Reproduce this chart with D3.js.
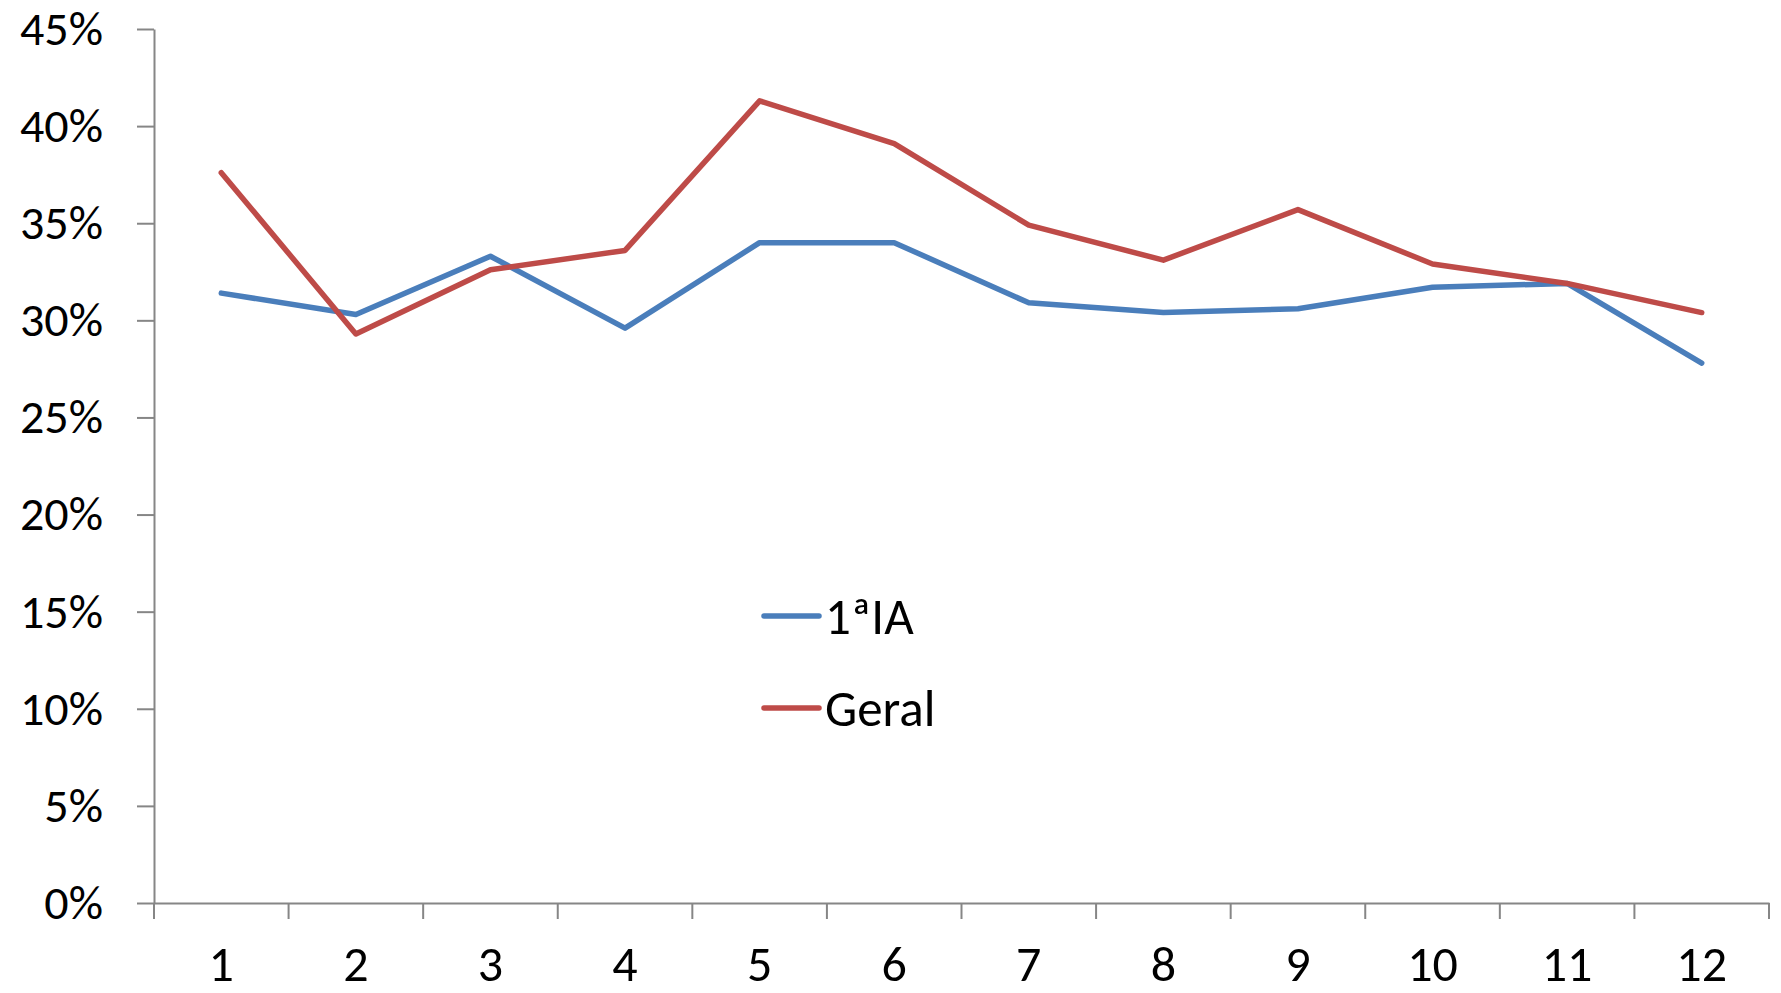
<!DOCTYPE html>
<html>
<head>
<meta charset="utf-8">
<script src="https://cdn.jsdelivr.net/npm/d3@7"></script>
<style>
  body { margin: 0; background: #fff; }
  svg { display: block; }
  .axis text { font-family: Carlito, Calibri, "Open Sans", sans-serif; font-size: 50px; fill: #000; }
  .axis.y text { font-size: 48px; }
  .legend text { font-family: Carlito, Calibri, "Open Sans", sans-serif; font-size: 51px; fill: #000; }
</style>
</head>
<body>
<div id="chart"></div>
<script>
// categories and series (fractions)
var categories = ["1", "2", "3", "4", "5", "6", "7", "8", "9", "10", "11", "12"];
var serie1A = [0.314, 0.303, 0.333, 0.296, 0.340, 0.340, 0.309, 0.304, 0.306, 0.317, 0.319, 0.278];
var serieGeral = [0.376, 0.293, 0.326, 0.336, 0.413, 0.391, 0.349, 0.331, 0.357, 0.329, 0.319, 0.304];
var seriesNames = ["1ªIA", "Geral"];
var yTicks = [0, 0.05, 0.10, 0.15, 0.20, 0.25, 0.30, 0.35, 0.40, 0.45];

var color = { "1ªIA": "#4A7EBB", "Geral": "#BE4B48" };
var axisColor = "#868686";

var width = 1781, height = 993;
var margin = { top: 29, right: 12, bottom: 90, left: 154 };

var svg = d3.select("#chart").append("svg")
    .attr("width", width)
    .attr("height", height);

var x = d3.scaleBand()
    .domain(categories)
    .range([margin.left, width - margin.right])
    .padding(0);

var y = d3.scaleLinear()
    .domain([0, 0.45])
    .range([height - margin.bottom, margin.top]);

// y axis
var yAxis = svg.append("g")
    .attr("class", "axis y")
    .attr("transform", "translate(" + margin.left + ",0)")
    .call(d3.axisLeft(y)
        .tickValues(yTicks)
        .tickFormat(d3.format(".0%"))
        .tickSize(17)
        .tickSizeOuter(0)
        .tickPadding(34));
yAxis.selectAll("line, path").attr("stroke", axisColor).attr("stroke-width", 2);

// x axis: labels centred, tick marks on category boundaries
var xAxis = svg.append("g")
    .attr("class", "axis x")
    .attr("transform", "translate(0," + y(0) + ")")
    .call(d3.axisBottom(x).tickSize(0).tickPadding(42));
xAxis.select(".domain").attr("stroke", axisColor).attr("stroke-width", 2);

var bounds = categories.map(function(d) { return x(d); });
bounds.push(x.range()[1]);
xAxis.selectAll(".bound")
    .data(bounds)
    .enter().append("line")
    .attr("class", "bound")
    .attr("x1", function(d) { return d; })
    .attr("x2", function(d) { return d; })
    .attr("y1", 0)
    .attr("y2", 16)
    .attr("stroke", axisColor)
    .attr("stroke-width", 2);

// lines
var line = d3.line()
    .x(function(d, i) { return x(categories[i]) + x.bandwidth() / 2; })
    .y(function(d) { return y(d); });

var data = [
  { name: seriesNames[0], values: serie1A },
  { name: seriesNames[1], values: serieGeral }
];

svg.selectAll(".serie")
    .data(data)
    .enter().append("path")
    .attr("class", "serie")
    .attr("d", function(d) { return line(d.values); })
    .attr("fill", "none")
    .attr("stroke", function(d) { return color[d.name]; })
    .attr("stroke-width", 5.5)
    .attr("stroke-linejoin", "round")
    .attr("stroke-linecap", "round");

// legend
var legend = svg.append("g")
    .attr("class", "legend")
    .attr("transform", "translate(764,616)");

var item = legend.selectAll(".item")
    .data(seriesNames)
    .enter().append("g")
    .attr("class", "item")
    .attr("transform", function(d, i) { return "translate(0," + (i * 92) + ")"; });

item.append("line")
    .attr("x1", 0).attr("x2", 55)
    .attr("y1", 0).attr("y2", 0)
    .attr("stroke", function(d) { return color[d]; })
    .attr("stroke-width", 5.5)
    .attr("stroke-linecap", "round");

item.append("text")
    .attr("x", 61)
    .attr("y", 0)
    .attr("dy", "0.36em")
    .text(function(d) { return d; });
</script>
</body>
</html>
